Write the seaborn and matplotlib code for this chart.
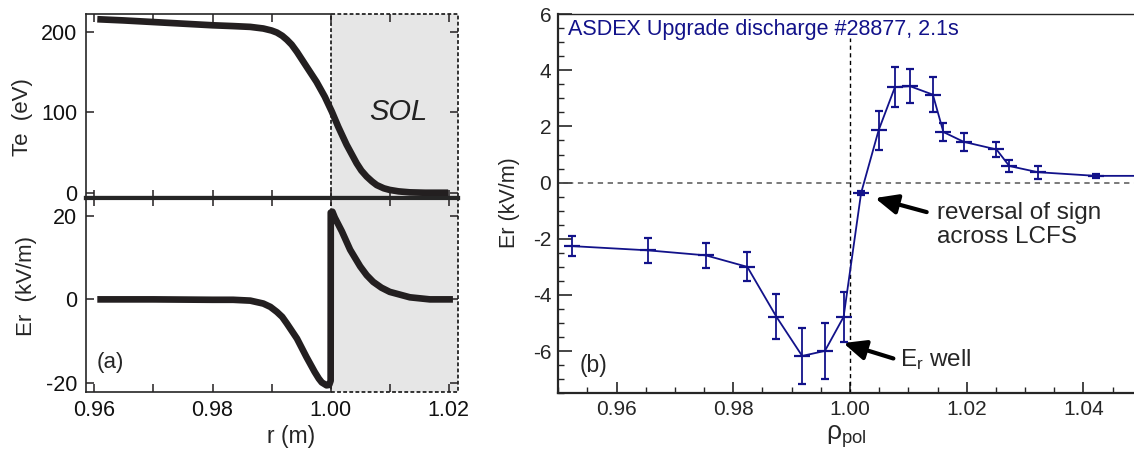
import matplotlib
matplotlib.use("Agg")
import matplotlib.pyplot as plt
import seaborn as sns
from matplotlib.ticker import MultipleLocator, FixedLocator, FormatStrFormatter

# ---------------- data ----------------
# (a) model Te profile
te_r = [0.9605, 0.965, 0.970, 0.975, 0.980, 0.9835, 0.9864, 0.9886, 0.9900, 0.9909,
        0.9918, 0.9926, 0.9934, 0.9943, 0.9959, 0.9976, 0.9990, 1.0002, 1.0013,
        1.0027, 1.0044, 1.0052, 1.0061, 1.0070, 1.0078, 1.0090, 1.0100, 1.0115,
        1.0134, 1.0160, 1.0199]
te_val = [215.5, 214.0, 212.0, 210.0, 208.0, 207.0, 206.0, 204.0, 201.5, 199.0,
          195.0, 190.0, 184.0, 175.0, 157.0, 138.0, 119.6, 101.0, 82.0,
          60.0, 37.0, 28.0, 20.5, 14.5, 10.0, 6.0, 4.0, 2.2,
          1.0, 0.5, 0.5]

# (a) model Er profile
er_r = [0.9605, 0.970, 0.980, 0.9835, 0.9864, 0.9886, 0.9898, 0.9909, 0.9918, 0.9926,
        0.9943, 0.9959, 0.9973, 0.9980, 0.9985, 0.9993, 0.99975, 1.0000, 1.00002,
        1.0003, 1.0007, 1.0019, 1.0033, 1.0050, 1.0061, 1.0072, 1.0086, 1.0100,
        1.0134, 1.0168, 1.0207]
er_val = [0.0, 0.0, -0.1, -0.1, -0.3, -1.0, -1.8, -3.0, -4.2, -5.8,
          -9.4, -13.8, -17.4, -19.0, -19.9, -20.6, -20.5, -19.5, 20.8,
          21.0, 19.6, 16.3, 11.9, 7.9, 5.8, 4.2, 2.8, 1.8,
          0.5, 0.0, 0.0]

# (b) measured Er, ASDEX Upgrade #28877
rho_pol = [0.9523, 0.9653, 0.9753, 0.9824, 0.9874, 0.9918, 0.9957, 0.9989, 1.0019,
           1.0049, 1.0077, 1.0103, 1.0142, 1.0160, 1.0195, 1.0251, 1.0273, 1.0322,
           1.0421, 1.0600]
er_meas = [-2.26, -2.41, -2.59, -3.00, -4.78, -6.17, -5.99, -4.78, -0.37,
           1.86, 3.40, 3.43, 3.13, 1.80, 1.45, 1.18, 0.59, 0.37,
           0.24, 0.24]
er_err = [0.36, 0.45, 0.45, 0.52, 0.80, 1.00, 1.00, 0.89, 0.06,
          0.70, 0.70, 0.61, 0.62, 0.33, 0.31, 0.28, 0.21, 0.23,
          0.06, 0.06]

left_ticks = [0.96, 0.98, 1.00, 1.02]
left_minor = [0.97, 0.99, 1.01]
lcfs = 1.00

# ---------------- style ----------------
sns.set_style("ticks")
plt.rcParams['font.family'] = ['Liberation Sans', 'DejaVu Sans']
plt.rcParams['mathtext.fontset'] = 'custom'
plt.rcParams['mathtext.rm'] = 'Liberation Sans'
plt.rcParams['mathtext.it'] = 'Liberation Sans:italic'
plt.rcParams['mathtext.default'] = 'regular'
plt.rcParams['axes.unicode_minus'] = False

dark = '#231f20'
navy = '#12128a'
shade = '#e6e6e6'

fig = plt.figure(figsize=(11.34, 4.51), dpi=100)
ax1 = fig.add_axes([0.0756, 0.561, 0.3285, 0.408])
ax2 = fig.add_axes([0.0756, 0.1308, 0.3285, 0.4302])
ax3 = fig.add_axes([0.4923, 0.1279, 0.5077, 0.8410])

xl = (0.95854, 1.0216)

# ---------------- panel (a) ----------------
for ax in (ax1, ax2):
    ax.set_xlim(*xl)
    ax.axvspan(lcfs, xl[1], facecolor=shade, edgecolor='k', ls=(0, (2.5, 1.5)),
               lw=1.1, clip_on=False, zorder=0.5)
    ax.spines['right'].set_visible(False)
    ax.spines['left'].set_linewidth(1.2)
    ax.xaxis.set_major_locator(FixedLocator(left_ticks))
    ax.xaxis.set_minor_locator(FixedLocator(left_minor))
    ax.xaxis.set_major_formatter(FormatStrFormatter('%.2f'))
    ax.tick_params(axis='both', which='both', direction='in', length=6, width=1.1,
                   top=True, right=True, labelsize=15.5, pad=6, colors=dark)
    ax.tick_params(axis='both', which='both', labelcolor='#111111')

sns.lineplot(x=te_r, y=te_val, ax=ax1, color=dark, lw=4.8, sort=False,
             estimator=None, legend=False, solid_capstyle='butt',
             solid_joinstyle='round', zorder=3)
ax1.set_ylim(-6, 222)
ax1.set_yticks([0, 100, 200])
ax1.tick_params(labelbottom=False)
ax1.spines['top'].set_bounds(xl[0], lcfs)
ax1.spines['top'].set_linewidth(1.2)
ax1.spines['bottom'].set_linewidth(3.0)
ax1.set_ylabel('Te  (eV)', fontsize=16)
ax1.yaxis.set_label_coords(-0.141, 0.44)
ax1.text(0.838, 0.467, 'SOL', transform=ax1.transAxes, fontsize=21,
         style='italic', ha='center', va='center', color='#222222')

sns.lineplot(x=er_r, y=er_val, ax=ax2, color=dark, lw=4.8, sort=False,
             estimator=None, legend=False, solid_capstyle='butt',
             solid_joinstyle='round', zorder=3)
ax2.set_ylim(-22.2, 24.3)
ax2.set_yticks([-20, 0, 20])
ax2.spines['bottom'].set_bounds(xl[0], lcfs)
ax2.spines['bottom'].set_linewidth(1.2)
ax2.spines['top'].set_linewidth(3.0)
ax2.set_ylabel('Er  (kV/m)', fontsize=16)
ax2.yaxis.set_label_coords(-0.131, 0.544)
ax2.set_xlabel('r (m)', fontsize=16.5)
ax2.xaxis.set_label_coords(0.55, -0.17)
ax2.text(0.030, 0.150, '(a)', transform=ax2.transAxes, fontsize=16,
         ha='left', va='center')

# ---------------- panel (b) ----------------
xr = (0.95, 1.04867)
yr = (-7.5, 6.0)
ax3.set_xlim(*xr)
ax3.set_ylim(*yr)
ax3.axhline(0, color='#555555', ls=(0, (3.5, 3)), lw=1.1, zorder=1)
ax3.axvline(lcfs, ymin=0, ymax=(5.15 - yr[0]) / (yr[1] - yr[0]), color='k',
            ls=(0, (3, 2.5)), lw=1.0, zorder=1)
sns.lineplot(x=rho_pol, y=er_meas, ax=ax3, color=navy, lw=1.3, sort=False,
             estimator=None, legend=False, zorder=3)
ax3.errorbar(rho_pol, er_meas, yerr=er_err, fmt='_', ms=11, mew=1.6,
             capsize=2.6, capthick=1.4, elinewidth=1.3, color=navy, zorder=4)

ax3.spines['right'].set_visible(False)
ax3.spines['top'].set_linewidth(1.0)
ax3.spines['left'].set_linewidth(1.6)
ax3.spines['bottom'].set_linewidth(1.6)
ax3.xaxis.set_major_locator(MultipleLocator(0.02))
ax3.xaxis.set_minor_locator(MultipleLocator(0.005))
ax3.xaxis.set_major_formatter(FormatStrFormatter('%.2f'))
ax3.yaxis.set_major_locator(MultipleLocator(2))
ax3.yaxis.set_minor_locator(MultipleLocator(0.5))
ax3.tick_params(axis='both', which='major', direction='in', length=8, width=1.2,
                labelsize=15, pad=5)
ax3.tick_params(axis='both', which='minor', direction='in', length=4.5, width=1.0)
ax3.tick_params(axis='y', which='major', length=10)
ax3.set_ylabel('Er (kV/m)', fontsize=15.5)
ax3.yaxis.set_label_coords(-0.0665, 0.502)
ax3.set_xlabel(r'$\rho_{pol}$', fontsize=19)
ax3.xaxis.set_label_coords(0.5, -0.08)

ax3.text(0.0168, 0.960, 'ASDEX Upgrade discharge #28877, 2.1s',
         transform=ax3.transAxes, color=navy, fontsize=15.5, ha='left', va='center')
ax3.text(0.0377, 0.0746, '(b)', transform=ax3.transAxes, fontsize=16.5,
         ha='left', va='center')

arrow = dict(arrowstyle='-|>,head_length=0.9,head_width=0.4', lw=3.0, color='k',
             mutation_scale=15, shrinkA=0, shrinkB=0)
ax3.annotate('', xy=(1.00428, -0.55), xytext=(1.01314, -1.05), arrowprops=arrow)
ax3.text(1.01486, -1.52, 'reversal of sign\nacross LCFS', fontsize=17.5,
         ha='left', va='center', linespacing=1.1)
ax3.annotate('', xy=(0.99885, -5.71), xytext=(1.00743, -6.26), arrowprops=arrow)
ax3.text(1.00857, -6.3, r'E$_{r}$ well', fontsize=17.5, ha='left', va='center')

fig.savefig('out.png', dpi=100)
